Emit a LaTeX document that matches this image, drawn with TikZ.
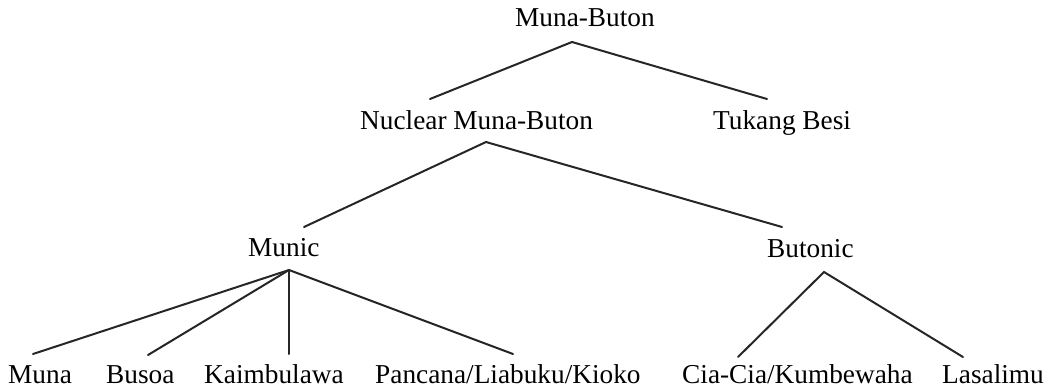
\documentclass[tikz,border=0pt]{standalone}
\usepackage{fontspec}
\setmainfont{Liberation Serif}
\begin{document}
\begin{tikzpicture}[x=1pt,y=1pt,
  lang/.style={anchor=base west,inner sep=0pt,font=\fontsize{27.3}{31}\selectfont},
  branch/.style={line width=2pt,draw=black!85,line cap=round}]
\useasboundingbox (0,0) rectangle (1051,-388);

% language labels
\node[lang] (mb)      at (515,-27)  {Muna-Buton};
\node[lang] (nmb)     at (360,-129) {Nuclear Muna-Buton};
\node[lang] (tb)      at (713,-129) {Tukang Besi};
\node[lang] (munic)   at (248,-256) {Munic};
\node[lang] (butonic) at (767,-257) {Butonic};
\node[lang] (muna)    at (8,-383)   {Muna};
\node[lang] (busoa)   at (106,-383) {Busoa};
\node[lang] (kaim)    at (204,-383) {Kaimbulawa};
\node[lang] (panc)    at (375,-383) {Pancana/Liabuku/Kioko};
\node[lang] (cia)     at (682,-383) {Cia-Cia/Kumbewaha};
\node[lang] (lasa)    at (942,-383) {Lasalimu};

% branching points under each parent
\coordinate (mb-fork)      at ([shift={(57,-15)}]mb.base west);
\coordinate (nmb-fork)     at ([shift={(126,-13)}]nmb.base west);
\coordinate (munic-fork)   at ([shift={(41,-14)}]munic.base west);
\coordinate (butonic-fork) at ([shift={(57,-15)}]butonic.base west);

% tree branches
\draw[branch] ([shift={(70,30)}]nmb.base west) -- (mb-fork) -- ([shift={(54,30)}]tb.base west);
\draw[branch] ([shift={(56,29)}]munic.base west) -- (nmb-fork) -- ([shift={(15,30)}]butonic.base west);
\draw[branch] (munic-fork) -- ([shift={(25,29)}]muna.base west);
\draw[branch] (munic-fork) -- ([shift={(42,28)}]busoa.base west);
\draw[branch] (munic-fork) -- ([shift={(85,29)}]kaim.base west);
\draw[branch] (munic-fork) -- ([shift={(138,29)}]panc.base west);
\draw[branch] ([shift={(56,26)}]cia.base west) -- (butonic-fork) -- ([shift={(21,26)}]lasa.base west);
\end{tikzpicture}
\end{document}
